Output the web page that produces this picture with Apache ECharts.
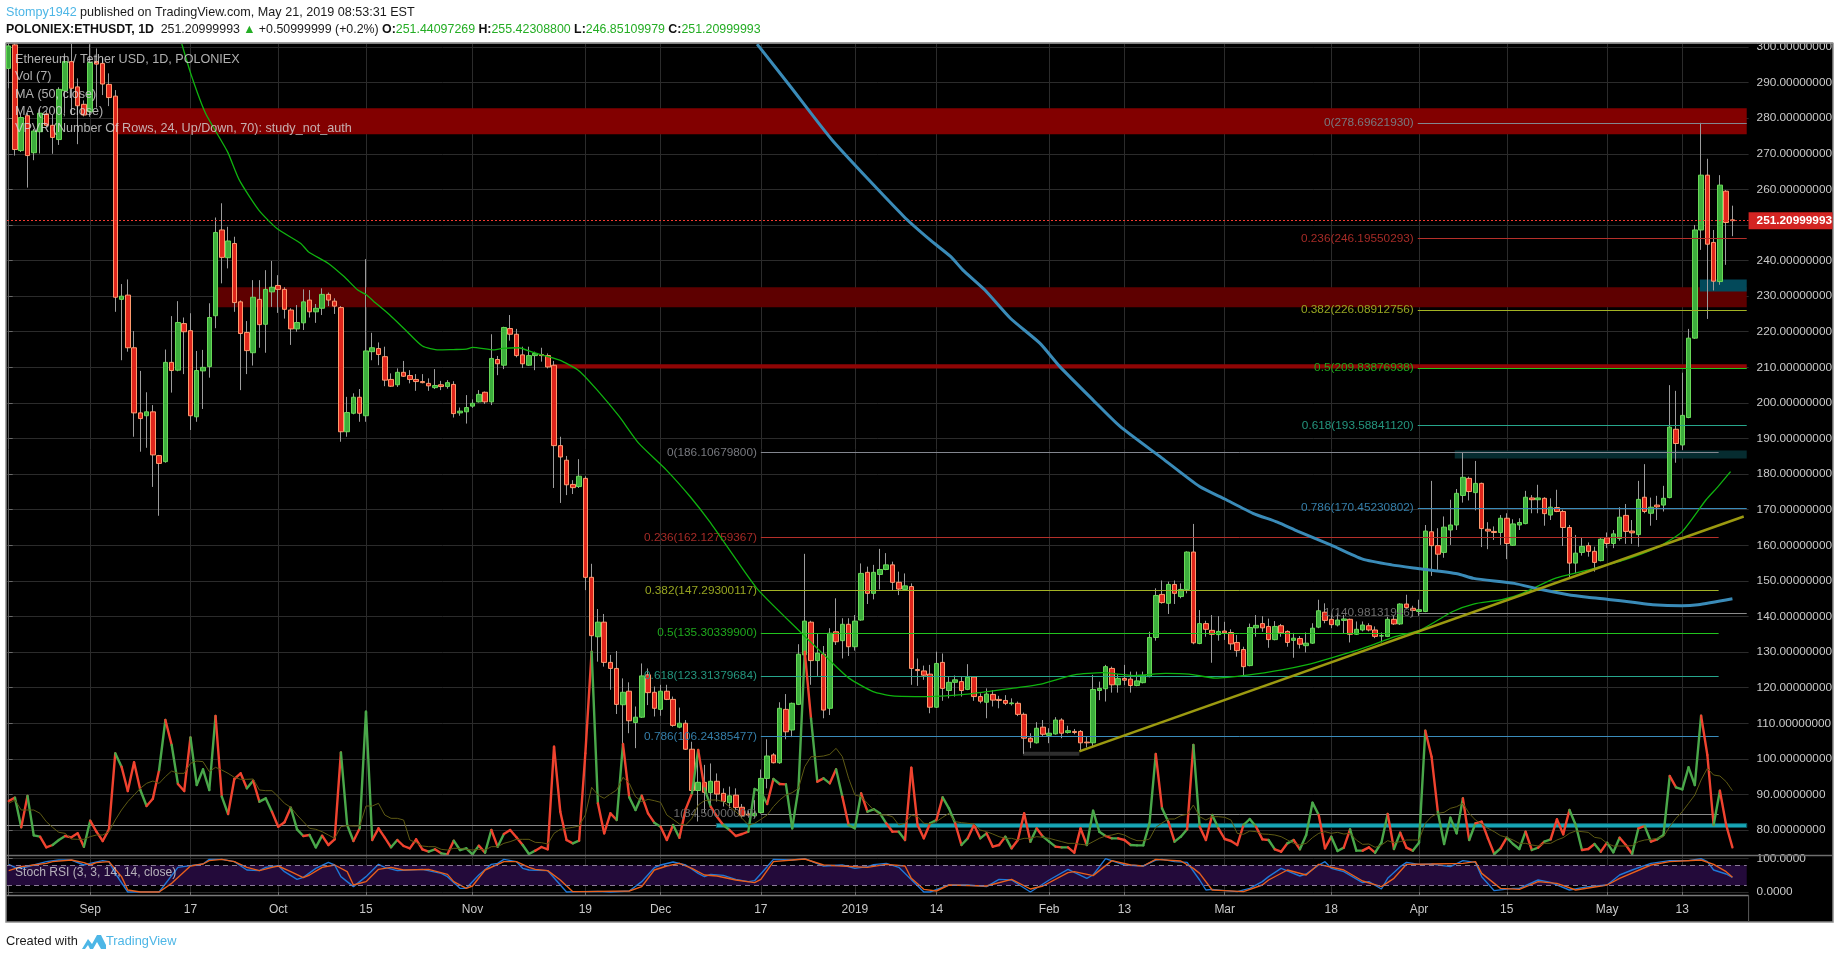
<!DOCTYPE html>
<html>
<head>
<meta charset="utf-8">
<title>ETHUSDT daily</title>
<style>html,body{margin:0;padding:0;background:#fff}#chart{width:1840px;height:959px}</style>
<script src="https://cdn.jsdelivr.net/npm/echarts@6/dist/echarts.min.js"></script>
</head>
<body>
<div id="chart"></div>
<script>
// Daily session dates run from 19 Aug 2018 to 21 May 2019.
const firstSession = '2018-08-19';
const sessionCount = 276;

const opens = [
294,300.6,270.9,280.7,270.3,276.2,281.2,278,274,287.7,
295.9,288.8,283.9,281.8,295.9,295.4,289.5,286.2,229.1,230.3,
215.5,197.2,196.4,197.5,185.2,183.5,211.4,209.2,222.3,220.3,
196.1,209,210.2,224.5,248.6,240.8,244.8,228.4,219.8,214.1,
229.1,222.1,231.2,233,231.9,226.1,220.8,222.5,228.9,225.6,
226.6,230.5,228.6,226.8,191.9,197.1,201.6,196.4,214.4,215.3,
213,206.6,205.1,208.6,207.7,206.6,206,205.5,204.3,205.1,
204.6,205.2,197.2,197.5,199.1,200.3,203,200.3,212.2,210.6,
220.9,219.3,213.5,210.6,213.3,213.6,213.3,210.6,188,183.9,
177.1,176.5,178.8,151,134.3,138.4,127.1,125.4,115.2,119,
110.2,111.7,123.6,118.7,113.9,119,116.7,108.9,110,102.7,
91.1,93.4,90.5,93.7,90.3,87.7,89.8,86.4,84.5,84,
84.9,94.5,101.1,98.9,113.9,108.1,115.3,129.2,138.4,127.6,
129.4,114.2,135.7,133.2,137.8,131.5,139,152.4,146.5,151.8,
153.2,154.5,149.6,147.6,148.4,125.1,124.7,123.8,114.5,127.1,
119.2,121.5,121.7,119.5,123,117.5,115.9,118.1,116.7,116.4,
115.5,115.6,112.5,105.8,104.5,108.9,106.6,107,110.9,107.4,
107.7,107.7,104.7,104.5,119.2,119.7,125.4,120.8,122.6,122.4,
120.6,121.4,123.1,134.1,146.2,143.7,149,145.6,147.6,158.1,
132.4,138,136.1,134.9,135.9,135.5,132.7,130.7,126.2,136.8,
138,137.2,133.5,137.4,135.8,133.3,133.8,131.8,132.5,137,
141.2,139.2,137.6,138.9,139.2,135,136.2,137.4,136.2,134.5,
134.4,139.2,137.9,143.5,142.3,141.4,141.4,163.8,159.9,158,
164.3,165.7,174,178.8,174.8,177.4,164.5,163.9,163.6,167.6,
160,165.7,166.1,173.3,172.8,173.2,168.5,170.6,169.5,165,
155,158,159.9,158.3,155.7,162.1,160.5,161.9,168.4,164,
163,173.5,169,171.3,171.3,173.4,192.6,188.2,195.9,218.2,
248.6,264,245.1,234.1,259.5,251.44097269];

const closes = [
300.3,271.2,280.2,269.5,276.4,281.4,278,274.6,288.1,295.9,
288.4,283.5,280.9,295.7,295.2,289.6,285.8,229.7,230,215.5,
197.2,195.6,197.5,185.4,183,211.4,209.1,222.6,220,196.4,
209.1,210,224,247.9,240.9,245.5,228.2,219.5,214.7,229.7,
222,231.9,232.5,231.9,226.3,220.8,222.6,228.4,225.6,226.6,
230.5,228.9,227.2,191.9,197.3,201.6,197.1,214.6,215.5,213.6,
206.4,204.7,208.6,207.5,206.6,206,205.7,204.8,204.9,204.6,
205.7,197,197.7,198.7,199.9,202.4,200.3,212.5,211,221.2,
219.3,213.3,211,213.3,213.9,213.3,210.1,188,184.8,177,
176.2,179.4,151,134.6,138.4,127.1,125.4,115.3,118.7,110.7,
111.7,123.3,118.6,114.2,119,116.7,109.4,110,102.7,91.1,
93.4,90.6,93.7,90.1,88,89.6,86.3,84,84.2,84.7,
94.5,100.8,98.9,114.2,107.6,115.6,129.4,138.7,127.6,129.7,
113.7,135.3,132.9,137.8,131.5,138.7,152.1,146.5,152.4,153.2,
154.5,149.6,147.7,148.6,125.4,124.8,123.5,114.5,126.8,119.8,
121.5,122.2,119.2,122.9,117.5,116.2,118.2,116.5,116.4,115.6,
115.7,112.5,105.8,104.8,108.6,106.9,107.2,110.9,107.2,107.9,
107.4,104.5,104.5,119.5,119.8,125.9,120.8,122.6,122.1,120.6,
121.9,123.4,134.1,145.9,143.9,149,146.5,147.6,158.1,132.6,
138,136.4,135,135.8,135.4,132.3,130.4,125.9,136.9,137.5,
136.8,133.5,137.2,135.4,132.7,133.9,132.2,132.5,136.7,141.6,
138.9,137.7,139,139.3,135,136.4,137.6,136.2,134.4,134.6,
139.2,137.9,143.5,142.5,141.7,141.9,164,159.9,157.5,165.1,
165.7,174.6,179.1,175.1,177.4,164.7,164,163.6,167.6,160.5,
166,166.4,173.5,172.8,173.3,168.9,170.7,169.5,165,155,
157.8,159.7,158.3,155.2,161.7,160.5,163.2,167.9,163.9,163.5,
172.9,169.5,170.7,170.8,173.2,193.2,188.6,196.5,218.2,248.6,
264,244.6,234.2,261.2,250.7,251.20999993];

const highs = [
305,302,281,281.4,277,282.5,282,280.9,288.7,298.2,
301,291.2,285,300.8,299.6,297,292.6,287.9,233.4,234.7,
220.2,209,203,199.4,185.4,215,224.4,228.6,224,225.2,
214.6,214.9,228,252.1,256.1,249.5,246.7,228.8,223,234.5,
234.5,237.3,239.9,235.9,232.5,226.6,227.5,231.9,231.7,227.8,
232.2,231,229.4,227.2,201.7,202.7,203.9,240.4,219.7,217,
215.8,208.3,209.7,211.8,209.2,208.1,208.1,206.9,209.5,206.2,
206.4,206.1,198.7,202.2,201,203.6,203.2,219.3,213.2,221.4,
224.7,220.8,215.8,215.8,214.4,215.5,213.9,211.8,190.5,185.1,
178.3,184.2,179.4,154.8,142.1,140.7,129.2,130.3,122.6,121.5,
114.7,126.8,125.4,120.3,120.8,120.8,117.5,114.4,110.9,104.8,
102.5,98.3,98.7,95.9,91.7,92.2,91.7,87.3,85.5,88.4,
97,105.5,101.6,115.9,118.2,115.8,132.2,157.6,138.8,135.3,
131.7,136.7,145.1,139.5,139.5,140.4,154.9,154,154.5,159,
157.8,155.4,152.6,152.1,149.3,128.2,126.2,126.4,130.1,129.6,
123.1,123.4,123.1,126.6,123.2,118.4,119.8,119.3,117.7,117.9,
117,116.1,113,107.2,110.3,110.9,108.6,111.7,111.4,109.3,
108.4,108.1,106.2,123.6,121.7,126.4,125.9,123.8,126.4,124.5,
124.5,124.5,135.7,147.9,150.1,149.8,150.1,149.3,158.3,166,
141.8,138.8,140.4,140.1,138.5,136.4,134.8,131.5,138,140.4,
140.1,139.4,138.7,137.9,136.1,135.4,134.5,135.5,138.1,144.7,
143.7,140.9,140.9,140.4,139.4,138.6,138.6,138.1,137.2,135.5,
139.9,140.4,143.7,146.1,143,144.7,165.7,178.1,164.8,168.1,
172.8,175.8,186.1068,179.3,183.7,177.6,166.5,165.3,168.5,169,
167.3,167.6,175.3,174.1,177,173.5,173.2,175.6,170,165.7,
162.9,162.3,160.8,159.6,162,163.6,164.3,170.7,171.6,167.1,
178.1,182.8,173.4,173.9,176.7,205,203.4,208.5,220.8,250,
278.6962193,268.6,248.6,264,259.8,255.423088];

const lows = [
288.4,269.5,270.5,260.5,268.2,270.1,277.5,270,272.5,281.4,
281,272.7,280.5,280.4,283,286.5,283.4,225.6,212,214.4,
190.5,186.3,187.4,176.4,168.3,183.2,202.9,208.9,208.1,192.4,
194.7,198.3,207.1,221,233.6,237.8,225.6,203.6,208.1,210.5,
215.5,214.1,227,225.3,223.7,216.3,220,220.5,224,222.5,
224.7,227.2,225,189.1,190.5,196.8,194.7,194.7,212,210.6,
204.7,204.5,204.5,207.3,205.5,203.4,205.5,203.4,203.9,203.6,
204,195.9,196.4,194.2,198.6,200.1,199.7,199.4,207.8,209.5,
217.5,212.8,209.8,210.4,209.2,211.6,209.7,176.1,171.9,174.1,
174.4,176.1,147.4,130,127.3,125.9,119.4,112.6,103.4,107.2,
103,111.5,115.1,111.9,112.1,116.5,109,108.6,102.5,90.8,
82.4,84.7,86.6,88,86.6,86.1,85.6,83.3,83.5,83.3,
84.6,91.7,98.7,98.6,105.5,106.1,115.1,127.8,120.8,123.3,
111.4,112.3,132,128.2,128.9,130.4,138.8,143.5,144.8,147.6,
153,147.4,146,147.4,120.8,120.5,122.2,112.8,114.3,116.3,
117,117.5,117.5,119.3,116.3,115.6,111.4,114.7,114.2,115.1,
115,112,101.4,103,104.3,106.2,104.4,106.8,105.8,107.1,
106.9,102.1,103.2,103.6,116.5,116.1,118.6,118.6,120.7,118.6,
120.4,121.2,122.9,133.2,143.6,140.7,143.5,145.1,146.5,132.2,
132.2,134.3,127,133.2,133.4,130.6,128.7,123.5,126,134.3,
135.7,131.2,133.3,134.3,131.5,128.4,131,129.9,132.3,136.7,
138.1,136.7,137.2,135.3,132.7,134.8,135.8,135.8,133.9,132.7,
134.2,137.6,137.6,142,140,140.2,141.2,151.4,153.1,156.5,
160.1,164.3,172,172.6,169.8,159.5,158.9,161.5,160.1,156.1,
159.8,164.3,165.9,169,169,165.5,167.1,169.3,159.8,150.7,
152.2,157.1,156.8,152.6,155.5,159.2,159.2,161.3,160.4,160.4,
159.6,169,165.5,167.1,169.5,173.2,183.2,186.8,195.7,218,
243,223.6,231.6,233.2,238.8,246.85109979];

// Traded volume as drawn by the Vol (7) overlay, in its own hidden scale.
const volumes = [
162,172,83,177,59,55,23,30,45,57,
53,65,25,103,70,42,77,305,265,192,
278,195,147,169,255,405,330,213,192,353,
210,257,195,417,175,123,228,245,200,223,
160,170,130,85,98,142,77,57,60,23,
58,30,47,308,90,42,80,430,45,80,
52,23,45,27,20,47,17,10,17,5,
2,43,15,20,2,28,7,75,25,63,
75,53,30,3,13,24,17,325,130,45,
35,43,305,610,155,65,125,105,333,173,
135,178,125,97,85,45,90,52,137,185,
315,200,145,115,90,75,57,63,70,198,
190,153,228,213,212,80,200,610,410,220,
230,215,257,175,90,80,185,130,137,125,
95,70,70,45,262,90,50,95,105,173,
140,95,30,50,90,50,65,25,30,55,
20,45,125,40,80,55,40,25,23,23,
7,80,30,133,70,57,50,50,45,30,
29,29,95,303,140,100,40,55,77,330,
85,45,120,80,48,42,30,90,108,85,
47,45,17,10,35,45,17,60,157,120,
20,55,12,22,77,13,13,23,7,37,
123,18,67,22,13,37,373,295,130,33,
112,65,170,45,95,100,50,3,20,52,
33,18,70,15,22,40,47,107,62,135,
90,15,18,33,10,37,8,52,30,3,
80,87,40,47,60,237,203,197,263,210,
418,300,90,193,90,23];

const volumeAverage = [
155,165,135,135,135,125,100,83,68,65,
48,47,47,55,60,60,70,105,135,160,
180,200,215,222,215,235,252,245,245,275,
282,280,250,263,255,245,233,227,227,228,
195,193,193,175,155,143,120,100,80,77,
70,60,50,85,88,87,87,147,147,155,
120,110,110,105,45,37,27,25,25,17,
15,20,20,17,15,17,15,25,25,35,
40,47,47,47,38,37,33,65,77,80,
83,87,120,203,180,170,183,195,233,215,
175,160,167,163,158,120,107,93,90,110,
150,163,165,165,160,145,130,110,90,95,
107,120,145,165,180,187,200,265,295,295,
297,302,320,295,230,180,175,155,135,120,
120,115,90,95,120,115,95,93,100,113,
125,100,97,95,93,75,70,63,55,50,
50,45,50,50,55,53,50,45,40,35,
35,32,30,40,50,57,60,65,60,50,
43,43,48,83,96,108,108,118,122,150,
115,105,115,115,113,105,65,62,72,70,
63,62,60,55,45,35,30,35,52,65,
70,65,68,63,65,45,32,33,23,30,
43,37,40,45,45,45,95,115,125,128,
140,145,155,125,105,93,80,70,58,53,
45,35,35,30,27,35,35,45,52,65,
72,70,68,53,50,35,27,27,27,28,
40,45,47,50,55,85,110,130,155,180,
225,260,240,237,220,193];

// Moving averages, [session index, price].
const ma50 = [
[27.6,301],[29.2,291.7],[31.4,281.4],[34.9,270.6],[36.8,262.6],[39.9,254.2],[42.8,249],[46.6,244.8],
[47.8,242.5],[51,239.2],[53.5,235.5],[55.7,231.7],[57.1,230.3],[58.2,228.6],[60.8,224.7],[63.3,220.5],
[66,216],[68.6,214.9],[70.9,215],[73,215.1],[74,215.6],[77.5,214.9],[78.7,215.3],[81.3,215.5],
[83.8,214.1],[87.9,212],[91,209],[93.9,203.6],[97.4,196.2],[100.5,188.7],[104.9,181.2],[108.7,173.7],
[111.8,166.7],[116.1,155.9],[119.6,147.4],[126.5,135.3],[130.9,127.8],[134.1,122.6],[137.9,118.9],
[141,117.7],[146.7,117.5],[153,118.2],[160,119.8],[164.7,121],[170,123.6],[174.5,124.2],[179.5,123.4],
[184.6,124],[188.3,123.8],[192.5,122.7],[197.9,123.6],[203.1,125],[207,126.4],[210.9,128.3],[216.1,131.1],
[221.3,134.4],[225.2,136.2],[230.4,141.4],[233.7,143.5],[238.2,144.7],[241.5,146.5],[246.7,150.7],
[252.5,153.3],[257.8,155.9],[263,159.4],[266.9,163.7],[270.8,172.8],[272.7,176.5],[274.7,180.7]];

const ma200 = [
[119.4,300.8],[124.9,288.5],[131.5,273.6],[142.8,252.4],[147,245.8],[150.3,241.1],[152.2,237.4],[155.7,231.8],
[159.8,223.8],[164.5,216.8],[167.7,210.2],[173,200.8],[177.3,193.4],[184,184.5],[190,176.5],[194,173],
[198.5,169],[202.4,166.5],[205.7,163.9],[210.9,160.1],[216,156.1],[220.6,154.5],[225.2,153.4],[231.1,152],
[233.7,150.7],[240.2,149.3],[244.1,147.7],[248.6,146.2],[251.9,145.4],[255.2,144.8],[259.1,144],[262.3,143.3],
[266.9,143],[269.5,143.3],[275,145]];

// Stochastic RSI, [session index, value].
const stochK = [
[0,83],[1,74],[2,71],[4,81],[6,91],[8,96],[10,96],[12,81],[13,86],[15,94],[16,91],[17,56],[19,0],[21,0],[24,0],
[27,74],[29,79],[31,84],[32,98],[34,98],[36,91],[38,66],[40,64],[41,74],[43,79],[44,61],[46,38],[47,44],[49,71],
[51,89],[52,81],[53,46],[55,16],[57,46],[59,83],[60,74],[62,64],[66,68],[69,56],[70,46],[72,11],[73,11],[75,51],
[77,83],[78,86],[79,98],[81,91],[82,71],[83,66],[86,64],[89,0],[91,1],[94,2],[96,0],[99,3],[101,31],[103,73],
[104,81],[106,90],[108,81],[110,56],[111,46],[112,53],[114,50],[116,38],[118,31],[119,34],[121,76],[122,98],
[125,96],[127,100],[130,78],[133,81],[135,71],[137,76],[138,82],[140,86],[142,74],[146,0],[147,0],[150,21],
[153,21],[156,16],[158,38],[160,36],[163,0],[166,36],[169,68],[172,41],[173,51],[175,100],[178,81],[181,78],
[183,96],[184,98],[186,91],[188,89],[190,36],[191,6],[192,8],[194,4],[196,1],[198,11],[200,31],[201,46],[203,71],
[206,48],[207,54],[209,81],[210,91],[211,71],[213,61],[216,28],[217,31],[219,9],[220,41],[222,76],[223,89],
[225,83],[227,84],[230,76],[232,94],[234,89],[235,46],[237,4],[240,11],[241,11],[244,36],[246,29],[249,6],[252,16],
[255,21],[257,51],[259,66],[262,86],[265,94],[268,94],[270,100],[271,91],[272,66],[274,54],[275,44]];

const stochD = [
[0,64],[2,76],[4,81],[6,86],[7,91],[10,96],[12,88],[13,81],[14,88],[16,91],[18,46],[19,6],[21,0],[24,0],[26,26],
[28,61],[29,78],[31,84],[32,94],[34,98],[36,91],[38,74],[40,64],[42,74],[43,78],[45,61],[47,43],[48,51],[50,74],
[52,81],[54,61],[55,21],[57,31],[59,68],[61,74],[63,66],[67,68],[70,53],[71,31],[73,11],[74,18],[76,66],[79,91],
[81,91],[83,74],[84,68],[86,64],[88,36],[90,1],[92,1],[94,2],[99,3],[101,16],[103,66],[105,78],[107,86],[109,71],
[111,51],[113,48],[116,36],[119,28],[120,38],[122,91],[125,96],[127,99],[130,81],[133,78],[137,74],[140,83],
[143,78],[144,41],[146,8],[148,3],[150,21],[156,18],[160,38],[163,9],[165,18],[169,58],[170,61],[173,49],[176,94],
[179,81],[181,78],[183,98],[187,93],[189,71],[190,56],[192,6],[194,4],[197,1],[200,21],[201,36],[204,66],[207,51],
[209,83],[213,66],[216,33],[219,16],[221,41],[223,83],[227,84],[232,86],[234,91],[235,56],[238,11],[241,8],[244,31],
[247,26],[250,6],[255,21],[257,41],[262,81],[265,91],[270,96],[272,83],[274,61],[275,44]];

// Fibonacci retracements: the May swing and the earlier one.
const fibRatios = ['0', '0.236', '0.382', '0.5', '0.618', '0.786', '1'];
const mayFib = [278.6962193, 246.19550293, 226.08912756, 209.83876938, 193.5884112, 170.45230802, 140.98131946];
const decFib = [186.106798, 162.12759367, 147.29300117, 135.303399, 123.31379684, 106.24385477, 84.5];
const mayFibStart = 224.8;
const decFibStart = 120;
const decFibEnd = 272.8;

// Price bands and the levels drawn across them: [session start, upper, lower].
const supplyBands = [[17, 282.8, 275.5], [33, 232.5, 226.9], [87, 210.9, 209.7]];
const demandBands = [[269.8, 234.7, 231.3], [230.7, 186.6, 184.4]];
const supportBand = [112.9, 81.8, 80.7];
const supportFloor = 81.2;
const consolidationBox = [161.8, 170.8, 102, 100.9];
const trendLine = [[170.8, 102.1], [276.8, 168.1]];
const lastPrice = 251.20999993;

const priceTicks = [80,90,100,110,120,130,140,150,160,170,180,190,200,210,220,230,240,250,260,270,280,290,300];
const stochTicks = [0, 100];
const axisTickDates = ['2018-09-01','2018-09-17','2018-10-01','2018-10-15','2018-11-01','2018-11-19','2018-12-01','2018-12-17',
  '2019-01-01','2019-01-14','2019-02-01','2019-02-13','2019-03-01','2019-03-18','2019-04-01','2019-04-15','2019-05-01','2019-05-13'];
const axisTickLabels = ['Sep','17','Oct','15','Nov','19','Dec','17','2019','14','Feb','13','Mar','18','Apr','15','May','13'];

// ---- layout and styling ----
const MONO = '"Liberation Sans", Arial, sans-serif';
const BOARD = {left: 6, top: 43, right: 1833, bottom: 922};
const AXIS_X = 1748.6;
const GRID_LINE = '#2b2b2b';
const UP_FILL = '#3dae3d', UP_EDGE = '#68d858', DOWN_FILL = '#e0261c', DOWN_EDGE = '#ff9a6e', WICK = '#9c9c9c';
const SUPPLY_COLORS = ['#820000', '#5e0000', '#8f0505'];
const DEMAND_COLORS = ['#03495a', '#062c30'];
const FIB_COLORS = ['#83868f', '#b5302a', '#a4b324', '#22c41e', '#27a68c', '#3b8cbb', '#8b8b8b'];
const FIB_TEXT = ['#77797f', '#a52b27', '#97a521', '#1fa81c', '#24957e', '#347ea9', '#6d6d6d'];

const DAY = 86400000;
const startMs = Date.parse(firstSession + 'T00:00:00Z');
const sessionIndex = d => Math.round((Date.parse(d + 'T00:00:00Z') - startMs) / DAY);
const tickIndexes = axisTickDates.map(sessionIndex);
const tickText = {};
tickIndexes.forEach((ix, k) => { tickText[ix] = axisTickLabels[k]; });

const PRICE_MIN = 72.98, PRICE_MAX = 300.85;
const X_MIN = -0.27, X_MAX = 277.58;

const wickData = [], bodyData = [];
for (let i = 0; i < sessionCount; i++) {
  wickData.push([i, opens[i], closes[i], lows[i], highs[i]]);
  bodyData.push([i, opens[i], closes[i], Math.min(opens[i], closes[i]), Math.max(opens[i], closes[i])]);
}

function xAxisOf(gridIndex, showLabels) {
  return {
    type: 'value', gridIndex, min: X_MIN, max: X_MAX, position: 'bottom',
    axisLine: {show: false},
    axisTick: {show: showLabels, length: 4, lineStyle: {color: '#6a6a6a'}, customValues: tickIndexes},
    splitLine: {show: true, lineStyle: {color: GRID_LINE, width: 1}},
    axisLabel: {
      show: showLabels, customValues: tickIndexes, color: '#c8c8c8', margin: 9,
      fontFamily: MONO, fontSize: 12, formatter: v => tickText[v] || ''
    }
  };
}

function yAxisOf(gridIndex, min, max, ticks, decimals) {
  return {
    type: 'value', gridIndex, min, max, position: 'right',
    axisLine: {show: true, lineStyle: {color: '#5c5c5c'}},
    axisTick: {show: true, length: 4, lineStyle: {color: '#6a6a6a'}, customValues: ticks},
    splitLine: {show: true, lineStyle: {color: GRID_LINE, width: 1}},
    axisLabel: {
      customValues: ticks, color: '#cacaca', margin: 8, fontFamily: MONO, fontSize: 11.8,
      formatter: v => v.toFixed(decimals)
    }
  };
}

function fibMarks(values, ratios, start, end) {
  return values.map((v, k) => {
    const name = ratios[k] + '(' + v.toFixed(8) + ')';
    return [
      {coord: [start, v], lineStyle: {color: FIB_COLORS[k], width: 1, type: 'solid'},
       label: {formatter: name, color: FIB_TEXT[k]}},
      {coord: [end, v]}
    ];
  });
}

function bandMarks(rows, colors, end) {
  return rows.map((r, k) => [
    {coord: [r[0], r[1]], itemStyle: {color: colors[k], opacity: 1}},
    {coord: [end, r[2]]}
  ]);
}

function volumeSegment(params, api) {
  const i = api.value(0);
  if (i === 0) return null;
  const a = api.coord([i - 1, api.value(2)]);
  const b = api.coord([i, api.value(1)]);
  return {
    type: 'line',
    shape: {x1: a[0], y1: a[1], x2: b[0], y2: b[1]},
    style: {stroke: api.value(3) > 0 ? '#4aa84a' : '#f0432f', lineWidth: 2.4, lineCap: 'round'}
  };
}

const volumeRows = volumes.map((v, i) => [i, v, i ? volumes[i - 1] : v, closes[i] >= opens[i] ? 1 : 0]);

function text(x, y, str, size, color, extra) {
  return {
    type: 'text', x, y, z: 60,
    style: Object.assign({text: str, fontFamily: MONO, fontSize: size, fill: color, verticalAlign: 'middle'}, extra || {})
  };
}

function headerStyles(size) {
  return {
    d: {fontFamily: MONO, fontSize: size, fill: '#1a1a1a'},
    b: {fontFamily: MONO, fontSize: size, fill: '#111', fontWeight: 'bold'},
    g: {fontFamily: MONO, fontSize: size, fill: '#24ad24'},
    u: {fontFamily: MONO, fontSize: size, fill: '#4db6e6'}
  };
}

const overlayColor = 'rgba(214,214,214,0.82)';

const graphic = [
  {type: 'rect', z: -10, shape: {x: BOARD.left, y: BOARD.top, width: BOARD.right - BOARD.left, height: BOARD.bottom - BOARD.top},
   style: {fill: '#000', stroke: '#8c8c8c', lineWidth: 1.5}},
  {type: 'rect', z: 50, shape: {x: 0, y: 0, width: 1840, height: BOARD.top - 0.5}, style: {fill: '#fff'}},
  {type: 'line', z: 51, shape: {x1: BOARD.left, y1: BOARD.top, x2: BOARD.right, y2: BOARD.top}, style: {stroke: '#8c8c8c', lineWidth: 1.5}},
  {type: 'line', z: 30, shape: {x1: BOARD.left, y1: 855.5, x2: BOARD.right, y2: 855.5}, style: {stroke: '#6e6e6e', lineWidth: 1.5}},
  {type: 'line', z: 30, shape: {x1: BOARD.left, y1: 895.5, x2: AXIS_X, y2: 895.5}, style: {stroke: '#7a7a7a', lineWidth: 1.5}},
  {type: 'line', z: 30, shape: {x1: AXIS_X, y1: 895, x2: AXIS_X, y2: BOARD.bottom}, style: {stroke: '#5c5c5c', lineWidth: 1}},
  {type: 'text', x: 6, y: 12.5, z: 60, style: {
    text: '{u|Stompy1942} {d|published on TradingView.com, May 21, 2019 08:53:31 EST}',
    rich: headerStyles(12.6), verticalAlign: 'middle'}},
  {type: 'text', x: 6, y: 29.5, z: 60, style: {
    text: '{b|POLONIEX:ETHUSDT, 1D}  {d|251.20999993} {g|▲} {d|+0.50999999 (+0.2%)} {b|O:}{g|251.44097269} {b|H:}{g|255.42308800} {b|L:}{g|246.85109979} {b|C:}{g|251.20999993}',
    rich: headerStyles(12.4), verticalAlign: 'middle'}},
  text(15, 60, 'Ethereum / Tether USD, 1D, POLONIEX', 12.6, overlayColor),
  text(15, 77, 'Vol (7)', 12.6, overlayColor),
  text(15, 94.5, 'MA (50, close)', 12.6, overlayColor),
  text(15, 111.5, 'MA (200, close)', 12.6, overlayColor),
  text(15, 128.5, 'VPVR (Number Of Rows, 24, Up/Down, 70): study_not_auth', 12.6, overlayColor),
  text(15, 872.5, 'Stoch RSI (3, 3, 14, 14, close)', 12.1, overlayColor),
  text(6, 941.5, 'Created with', 12.8, '#1a1a1a'),
  {type: 'polygon', z: 60, shape: {
    points: [[82,949],[88,939],[92,944],[97,935],[101,935],[106,945],[106,949],[101,949],[97,942],[93,949],[90,949],[88,945],[85,949]]},
    style: {fill: '#4db6e6'}},
  text(106, 941.5, 'TradingView', 12.8, '#4db6e6')
];

const option = {
  animation: false,
  backgroundColor: '#ffffff',
  graphic,
  grid: [
    {left: 7, right: 1840 - AXIS_X, top: 44, height: 811, containLabel: false},
    {left: 7, right: 1840 - AXIS_X, top: 855, height: 40, containLabel: false}
  ],
  xAxis: [xAxisOf(0, false), xAxisOf(1, true)],
  yAxis: [
    yAxisOf(0, PRICE_MIN, PRICE_MAX, priceTicks, 8),
    yAxisOf(1, -9, 111, stochTicks, 4),
    {type: 'value', gridIndex: 0, min: 0, max: 2433, show: false, splitLine: {show: false}}
  ],
  series: [
    {
      name: 'Bands', type: 'line', data: [], z: 1, silent: true, xAxisIndex: 0, yAxisIndex: 0,
      markArea: {
        silent: true,
        label: {show: false},
        data: bandMarks(supplyBands, SUPPLY_COLORS, X_MAX - 0.3)
          .concat(bandMarks(demandBands, DEMAND_COLORS, X_MAX - 0.3))
          .concat([
            [{coord: [supportBand[0], supportBand[1]], itemStyle: {color: '#18a6b6', opacity: 1, borderColor: '#0a5a64', borderWidth: 1}},
             {coord: [X_MAX - 0.3, supportBand[2]]}],
            [{coord: [consolidationBox[0], consolidationBox[2]], itemStyle: {color: '#2e2e2e', opacity: 1}},
             {coord: [consolidationBox[1], consolidationBox[3]]}]
          ])
      }
    },
    {
      name: 'Fib May', type: 'line', data: [], z: 2, silent: true, xAxisIndex: 0, yAxisIndex: 0,
      markLine: {
        silent: true, symbol: ['none', 'none'], animation: false,
        label: {show: true, position: 'start', fontFamily: MONO, fontSize: 11.8, distance: 4},
        data: fibMarks(mayFib, fibRatios, mayFibStart, X_MAX - 0.3)
      }
    },
    {
      name: 'Fib Dec', type: 'line', data: [], z: 2, silent: true, xAxisIndex: 0, yAxisIndex: 0,
      markLine: {
        silent: true, symbol: ['none', 'none'], animation: false,
        label: {show: true, position: 'start', fontFamily: MONO, fontSize: 11.8, distance: 4},
        data: fibMarks(decFib, fibRatios, decFibStart, decFibEnd)
      }
    },
    {
      name: 'Floor', type: 'line', data: [], z: 2, silent: true, xAxisIndex: 0, yAxisIndex: 0,
      markLine: {
        silent: true, symbol: ['none', 'none'], animation: false, label: {show: false},
        data: [[{coord: [X_MIN, supportFloor], lineStyle: {color: '#8a8a8a', width: 1, type: 'solid'}}, {coord: [supportBand[0], supportFloor]}]]
      }
    },
    {
      name: 'Wicks', type: 'candlestick', data: wickData, z: 3, barWidth: 0, silent: true, clip: true,
      xAxisIndex: 0, yAxisIndex: 0,
      itemStyle: {color: WICK, color0: WICK, borderColor: WICK, borderColor0: WICK, borderColorDoji: WICK, borderWidth: 1}
    },
    {
      name: 'ETHUSDT', type: 'candlestick', data: bodyData, z: 4, barWidth: 5, silent: true, clip: true,
      xAxisIndex: 0, yAxisIndex: 0,
      itemStyle: {color: UP_FILL, color0: DOWN_FILL, borderColor: UP_EDGE, borderColor0: DOWN_EDGE, borderColorDoji: DOWN_EDGE, borderWidth: 1}
    },
    {
      name: 'Vol', type: 'custom', data: volumeRows, z: 5, silent: true, clip: true, xAxisIndex: 0, yAxisIndex: 2,
      encode: {x: 0, y: 1}, renderItem: volumeSegment
    },
    {
      name: 'Vol MA', type: 'line', data: volumeAverage.map((v, i) => [i, v]), z: 5, xAxisIndex: 0, yAxisIndex: 2,
      showSymbol: false, silent: true, lineStyle: {color: '#5e5a14', width: 1}
    },
    {
      name: 'MA 50', type: 'line', data: ma50, z: 6, xAxisIndex: 0, yAxisIndex: 0, showSymbol: false, silent: true,
      smooth: 0.2, lineStyle: {color: '#0fb30f', width: 1.3}
    },
    {
      name: 'MA 200', type: 'line', data: ma200, z: 6, xAxisIndex: 0, yAxisIndex: 0, showSymbol: false, silent: true,
      smooth: 0.2, lineStyle: {color: '#3a8bb8', width: 3}
    },
    {
      name: 'Trend', type: 'line', data: trendLine, z: 6, xAxisIndex: 0, yAxisIndex: 0, showSymbol: false, silent: true,
      lineStyle: {color: '#9c9a10', width: 2.5}
    },
    {
      name: 'Last', type: 'line', data: [], z: 7, silent: true, xAxisIndex: 0, yAxisIndex: 0,
      markLine: {
        silent: true, symbol: ['none', 'none'], animation: false,
        lineStyle: {color: '#f03a32', width: 1, type: [2, 2]},
        label: {
          show: true, position: 'end', distance: 0, formatter: lastPrice.toFixed(8), color: '#fff',
          backgroundColor: '#d32422', fontFamily: MONO, fontSize: 11.8, fontWeight: 'bold',
          width: 76, height: 17, lineHeight: 17, padding: [0, 0, 0, 8], align: 'left', verticalAlign: 'middle'
        },
        data: [{yAxis: lastPrice}]
      }
    },
    {
      name: 'Stoch band', type: 'line', data: [], z: 1, silent: true, xAxisIndex: 1, yAxisIndex: 1,
      markArea: {
        silent: true,
        data: [[{coord: [X_MIN, 80], itemStyle: {color: '#230a3a', opacity: 1}}, {coord: [X_MAX - 0.3, 20]}]]
      },
      markLine: {
        silent: true, symbol: ['none', 'none'], animation: false, label: {show: false},
        lineStyle: {color: '#8a7b96', width: 1, type: [5, 4]},
        data: [
          [{coord: [X_MIN, 80]}, {coord: [X_MAX - 0.3, 80]}],
          [{coord: [X_MIN, 20]}, {coord: [X_MAX - 0.3, 20]}]
        ]
      }
    },
    {
      name: '%K', type: 'line', data: stochK, z: 3, xAxisIndex: 1, yAxisIndex: 1, showSymbol: false, silent: true,
      lineStyle: {color: '#1e78d8', width: 1.4}
    },
    {
      name: '%D', type: 'line', data: stochD, z: 4, xAxisIndex: 1, yAxisIndex: 1, showSymbol: false, silent: true,
      lineStyle: {color: '#e8601c', width: 1.4}
    }
  ]
};

echarts.init(document.getElementById('chart'), null, {renderer: 'canvas'}).setOption(option);
</script>
</body>
</html>
